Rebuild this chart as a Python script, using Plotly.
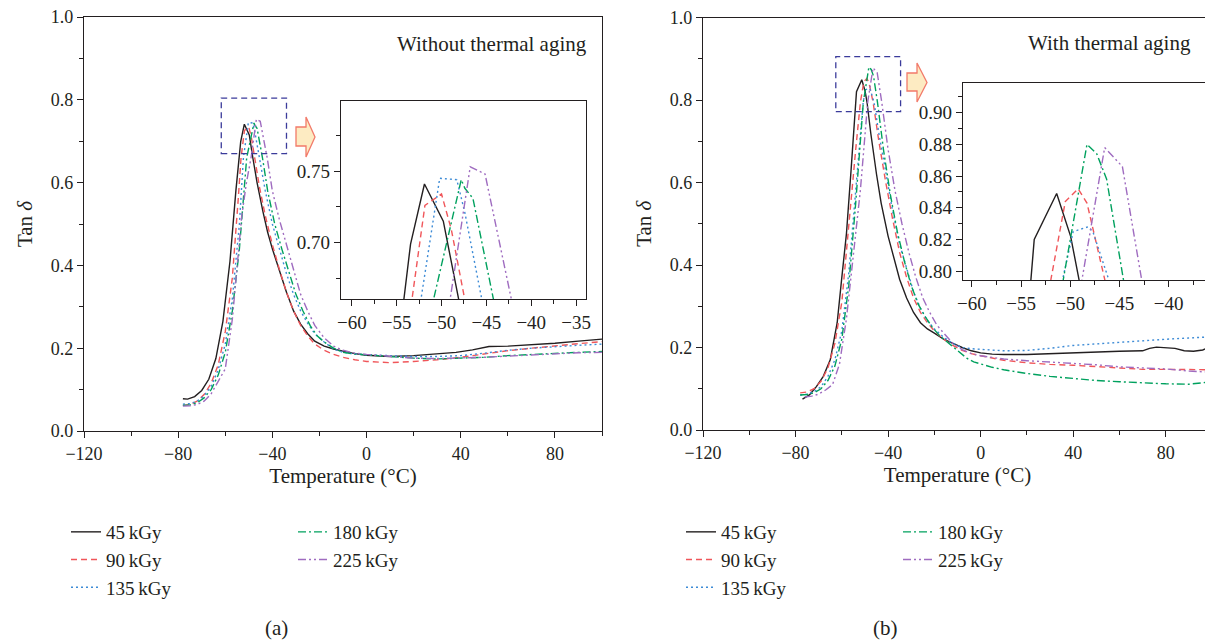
import plotly.graph_objects as go

# the page body keeps an 8px margin, so the figure is drawn 8px in from the top-left corner
OFF = 8
W, H = 1213 - OFF, 644 - OFF
FONT = "Liberation Serif"
INK = "#231F20"

# ---- data ---------------------------------------------------------------
doses = ["45\u2009kGy", "90\u2009kGy", "135\u2009kGy", "180\u2009kGy", "225\u2009kGy"]
colors = ["#231F20", "#F0565A", "#3D8BD6", "#00A15E", "#9F6CC0"]
dashes = ["solid", "6px,4px", "2px,3px", "8px,3px,2px,3px", "8px,3px,2px,3px,2px,3px"]

# (a) without thermal aging
a_t45 = [-78, -76, -73, -70, -67, -64, -61, -58, -55.5, -54.2, -53.45, -51.9, -49.8, -48.3, -46.5, -44, -42, -40,
         -37, -34, -31, -28, -25, -22, -18, -14, -10, -5, 0, 10, 20, 30, 38, 45, 52, 60, 70, 80, 90, 100]
a_y45 = [0.078, 0.077, 0.083, 0.098, 0.125, 0.175, 0.265, 0.41, 0.58, 0.66, 0.699, 0.741, 0.715, 0.66, 0.60, 0.53,
         0.48, 0.44, 0.385, 0.335, 0.29, 0.258, 0.235, 0.217, 0.205, 0.198, 0.193, 0.187, 0.183, 0.180, 0.182,
         0.186, 0.190, 0.196, 0.204, 0.205, 0.208, 0.212, 0.217, 0.222]
a_t90 = [-78, -75, -72, -69, -66, -63, -60, -57, -54.5, -53.3, -51.85, -50.0, -48.9, -47.4, -45.5, -43, -40, -37,
         -34, -31, -28, -25, -22, -18, -14, -10, -5, 0, 10, 20, 30, 40, 50, 60, 70, 80, 90, 100]
a_y90 = [0.062, 0.064, 0.072, 0.088, 0.115, 0.16, 0.24, 0.37, 0.56, 0.66, 0.726, 0.734, 0.709, 0.66, 0.59, 0.52,
         0.45, 0.39, 0.335, 0.29, 0.255, 0.230, 0.210, 0.195, 0.185, 0.178, 0.172, 0.168, 0.165, 0.168, 0.172,
         0.178, 0.186, 0.194, 0.200, 0.206, 0.211, 0.216]
a_t135 = [-78, -75, -72, -69, -66, -63, -60, -57, -54, -52.3, -50.2, -48.3, -47.4, -45.5, -43, -40, -37, -34, -31,
          -28, -25, -22, -18, -14, -10, -5, 0, 10, 20, 30, 40, 50, 60, 70, 80, 90, 100]
a_y135 = [0.065, 0.066, 0.072, 0.085, 0.108, 0.148, 0.21, 0.32, 0.50, 0.66, 0.745, 0.744, 0.721, 0.66, 0.58, 0.50,
          0.44, 0.38, 0.33, 0.29, 0.26, 0.235, 0.215, 0.198, 0.19, 0.186, 0.184, 0.182, 0.180, 0.180, 0.182, 0.188,
          0.195, 0.200, 0.204, 0.207, 0.21]
a_t180 = [-78, -75, -72, -69, -66, -63, -60, -57, -54, -50.9, -47.8, -47.4, -46.5, -44.2, -42, -39, -36, -33, -30,
          -27, -24, -21, -18, -14, -10, -5, 0, 10, 20, 30, 40, 50, 60, 70, 80, 90, 100]
a_y180 = [0.062, 0.063, 0.068, 0.08, 0.10, 0.135, 0.19, 0.29, 0.44, 0.66, 0.744, 0.738, 0.731, 0.66, 0.58, 0.50,
          0.44, 0.385, 0.33, 0.29, 0.255, 0.23, 0.215, 0.200, 0.19, 0.186, 0.184, 0.180, 0.176, 0.174, 0.176,
          0.178, 0.182, 0.185, 0.188, 0.19, 0.192]
a_t225 = [-78, -75, -72, -69, -66, -63, -60, -57, -55, -53, -51, -49.05, -46.8, -45.15, -42.2, -40, -37, -34, -31,
          -28, -25, -22, -18, -14, -10, -5, 0, 10, 20, 30, 40, 50, 60, 70, 80, 90, 100]
a_y225 = [0.06, 0.061, 0.064, 0.072, 0.09, 0.12, 0.15, 0.27, 0.39, 0.52, 0.60, 0.66, 0.753, 0.748, 0.66, 0.58,
          0.51, 0.45, 0.385, 0.33, 0.29, 0.255, 0.225, 0.205, 0.195, 0.188, 0.185, 0.180, 0.176, 0.175, 0.176,
          0.178, 0.181, 0.184, 0.187, 0.189, 0.19]

# (b) with thermal aging
b_t45 = [-77, -74, -71, -68, -65, -62, -60, -58, -56, -54.0, -53.66, -51.38, -49.96, -49.1, -47.5, -45, -43, -40,
         -37, -35, -32, -29, -26, -23, -20, -16, -12, -8, -4, 0, 5, 10, 20, 30, 40, 50, 60, 70, 73, 76, 80, 84,
         88, 92, 96, 100]
b_y45 = [0.075, 0.085, 0.105, 0.13, 0.17, 0.26, 0.37, 0.476, 0.63, 0.7946, 0.82, 0.849, 0.822, 0.7945, 0.72, 0.62,
         0.55, 0.47, 0.405, 0.365, 0.32, 0.285, 0.26, 0.245, 0.235, 0.22, 0.21, 0.2, 0.192, 0.187, 0.184, 0.183,
         0.183, 0.185, 0.188, 0.19, 0.191, 0.192, 0.198, 0.201, 0.2, 0.198, 0.192, 0.191, 0.194, 0.203]
b_t90 = [-78, -75, -72, -69, -66, -63, -60, -57, -54, -51.96, -50.5, -49.2, -48.3, -46.5, -44, -41, -38, -35, -32,
         -29, -26, -23, -20, -16, -12, -8, -4, 0, 5, 10, 20, 30, 40, 50, 60, 70, 80, 90, 100]
b_y90 = [0.09, 0.092, 0.1, 0.118, 0.15, 0.21, 0.31, 0.50, 0.68, 0.795, 0.844, 0.852, 0.843, 0.795, 0.7, 0.6, 0.51,
         0.43, 0.37, 0.32, 0.285, 0.26, 0.24, 0.22, 0.205, 0.193, 0.185, 0.18, 0.174, 0.169, 0.163, 0.159, 0.157,
         0.154, 0.15, 0.147, 0.147, 0.147, 0.146]
b_t135 = [-78, -75, -72, -69, -66, -63, -60, -57, -54, -50.77, -49.7, -48.2, -47.7, -46.1, -44, -41, -38, -35, -32,
          -29, -26, -23, -20, -16, -12, -8, -4, 0, 5, 10, 20, 30, 40, 50, 60, 70, 80, 90, 100]
b_y135 = [0.085, 0.087, 0.093, 0.105, 0.13, 0.17, 0.24, 0.38, 0.58, 0.795, 0.825, 0.828, 0.825, 0.795, 0.72, 0.62,
          0.53, 0.45, 0.39, 0.335, 0.295, 0.265, 0.245, 0.225, 0.21, 0.2, 0.197, 0.196, 0.194, 0.192, 0.193,
          0.198, 0.205, 0.209, 0.213, 0.217, 0.22, 0.223, 0.226]
b_t180 = [-78, -75, -72, -69, -66, -63, -60, -57, -54, -50.7, -48.3, -47.3, -46.3, -44.6, -42, -39, -36, -33, -30,
          -27, -24, -21, -18, -14, -10, -6, -3, 0, 5, 10, 20, 30, 40, 50, 60, 70, 80, 90, 100]
b_y180 = [0.085, 0.086, 0.09, 0.1, 0.12, 0.155, 0.22, 0.35, 0.55, 0.795, 0.88, 0.874, 0.858, 0.795, 0.68, 0.57,
          0.48, 0.41, 0.35, 0.305, 0.275, 0.25, 0.23, 0.212, 0.192, 0.174, 0.165, 0.16, 0.152, 0.146, 0.137, 0.13,
          0.125, 0.12, 0.117, 0.114, 0.112, 0.111, 0.117]
b_t225 = [-76, -73, -70, -67, -64, -61, -58, -55, -52, -48.8, -46.5, -44.7, -42.75, -40, -37, -34, -31, -28, -25,
          -22, -19, -16, -12, -8, -4, 0, 10, 20, 30, 40, 50, 60, 70, 80, 90, 100]
b_y225 = [0.08, 0.082, 0.087, 0.097, 0.11, 0.16, 0.27, 0.42, 0.58, 0.795, 0.878, 0.866, 0.795, 0.68, 0.58, 0.5,
          0.43, 0.37, 0.32, 0.285, 0.255, 0.235, 0.21, 0.195, 0.185, 0.18, 0.172, 0.168, 0.165, 0.162, 0.158,
          0.153, 0.15, 0.148, 0.143, 0.14]

panel_a = [(a_t45, a_y45), (a_t90, a_y90), (a_t135, a_y135), (a_t180, a_y180), (a_t225, a_y225)]
panel_b = [(b_t45, b_y45), (b_t90, b_y90), (b_t135, b_y135), (b_t180, b_y180), (b_t225, b_y225)]


# screen pixel -> paper fraction
def px(x):
    return (x - OFF) / W


def py(y):
    return 1 - (y - OFF) / H


fig = go.Figure()

# main curves + insets; first three doses in one legend column, last two in the other
for panel, (xa, ya), (xi, yi), legs in [(panel_a, ("x", "y"), ("x3", "y3"), ("legend", "legend2")),
                                        (panel_b, ("x2", "y2"), ("x4", "y4"), ("legend3", "legend4"))]:
    for i, (t, v) in enumerate(panel):
        line = dict(color=colors[i], dash=dashes[i], width=1.4)
        grp = xa + str(i)
        fig.add_trace(go.Scatter(x=t, y=v, mode="lines", line=line, name=doses[i], xaxis=xa, yaxis=ya,
                                 legend=legs[0] if i < 3 else legs[1], legendgroup=grp))
        fig.add_trace(go.Scatter(x=t, y=v, mode="lines", line=line, name=doses[i], xaxis=xi, yaxis=yi,
                                 showlegend=False, legendgroup=grp))

axis_common = dict(showline=True, linecolor=INK, linewidth=1.3, mirror=True, ticks="outside", ticklen=6,
                   tickcolor=INK, tickwidth=1.2, showgrid=False, zeroline=False, automargin=False,
                   ticklabeloverflow="allow", tickfont=dict(family=FONT, size=18, color=INK))
x_main = dict(axis_common, range=[-120, 100], tick0=-120, dtick=40,
              minor=dict(dtick=20, tick0=-120, ticks="outside", ticklen=4, tickcolor=INK),
              title=dict(text="Temperature (°C)", font=dict(family=FONT, size=21, color=INK), standoff=2))
y_main = dict(axis_common, range=[0, 1], tick0=0, dtick=0.2, tickformat=".1f",
              minor=dict(dtick=0.1, ticks="outside", ticklen=4, tickcolor=INK),
              title=dict(text="Tan <i>δ</i>", font=dict(family=FONT, size=21, color=INK), standoff=12))
inset_font = dict(family=FONT, size=19, color=INK)

fig.update_layout(
    width=W, height=H, margin=dict(l=0, r=0, t=0, b=0),
    paper_bgcolor="white", plot_bgcolor="white",
    xaxis=dict(x_main, domain=[px(84), px(602)], anchor="y"),
    yaxis=dict(y_main, domain=[py(431), py(17)], anchor="x"),
    xaxis2=dict(x_main, domain=[px(703), px(1212)], anchor="y2"),
    yaxis2=dict(y_main, domain=[py(430), py(17.5)], anchor="x2"),
    xaxis3=dict(axis_common, domain=[px(341), px(586)], anchor="y3", range=[-61.2, -33.9], tick0=-60, dtick=5,
                tickfont=inset_font, minor=dict(dtick=2.5, ticks="outside", ticklen=4, tickcolor=INK)),
    yaxis3=dict(axis_common, domain=[py(299), py(101)], anchor="x3", range=[0.6606, 0.799], tick0=0.7,
                dtick=0.05, tickformat=".2f", tickfont=inset_font,
                minor=dict(dtick=0.025, ticks="outside", ticklen=4, tickcolor=INK)),
    xaxis4=dict(axis_common, domain=[px(963), px(1207)], anchor="y4", range=[-60.9, -36.1], tick0=-60, dtick=5,
                tickfont=inset_font, minor=dict(dtick=2.5, ticks="outside", ticklen=4, tickcolor=INK)),
    yaxis4=dict(axis_common, domain=[py(280), py(83)], anchor="x4", range=[0.7945, 0.9187], tick0=0.8,
                dtick=0.02, tickformat=".2f", tickfont=inset_font,
                minor=dict(dtick=0.01, ticks="outside", ticklen=4, tickcolor=INK)),
    font=dict(family=FONT, size=18, color=INK),
)

leg = dict(font=dict(family=FONT, size=19, color=INK), bgcolor="rgba(0,0,0,0)", yanchor="top", xanchor="left",
           tracegroupgap=0, itemwidth=30)
fig.update_layout(
    legend=dict(leg, x=px(66), y=py(513)),
    legend2=dict(leg, x=px(293), y=py(513)),
    legend3=dict(leg, x=px(681), y=py(513)),
    legend4=dict(leg, x=px(898), y=py(513)),
)

# zoom boxes on the main plots
box = dict(type="rect", line=dict(color="#3B3B9B", width=1.3, dash="6px,4px"), fillcolor="rgba(0,0,0,0)")
fig.add_shape(box, xref="x", yref="y", x0=-61.7, x1=-34.0, y0=0.670, y1=0.804)
fig.add_shape(box, xref="x2", yref="y2", x0=-62.6, x1=-34.6, y0=0.772, y1=0.905)


def arrow(x0, x1, x2, yt, yb, ht, hb, ym):
    pts = [(x0, yt), (x1, yt), (x1, ht), (x2, ym), (x1, hb), (x1, yb), (x0, yb)]
    path = "M " + " L ".join(f"{px(a):.5f},{py(b):.5f}" for a, b in pts) + " Z"
    fig.add_shape(type="path", path=path, xref="paper", yref="paper",
                  fillcolor="#FDEBC2", line=dict(color="#F27A6A", width=1.3))


arrow(296, 306, 315, 127, 146, 117, 157, 137)
arrow(907, 917, 927, 73, 91, 63, 102, 82.5)

note = dict(font=dict(family=FONT, size=21, color=INK), showarrow=False, xref="paper", yref="paper")
fig.add_annotation(note, text="Without thermal aging", x=px(589), y=py(44), xanchor="right", yanchor="middle")
fig.add_annotation(note, text="With thermal aging", x=px(1193), y=py(43), xanchor="right", yanchor="middle")
fig.add_annotation(note, text="(a)", x=px(276), y=py(628), xanchor="center", yanchor="middle")
fig.add_annotation(note, text="(b)", x=px(885), y=py(628), xanchor="center", yanchor="middle")

fig.write_html("out.html")
